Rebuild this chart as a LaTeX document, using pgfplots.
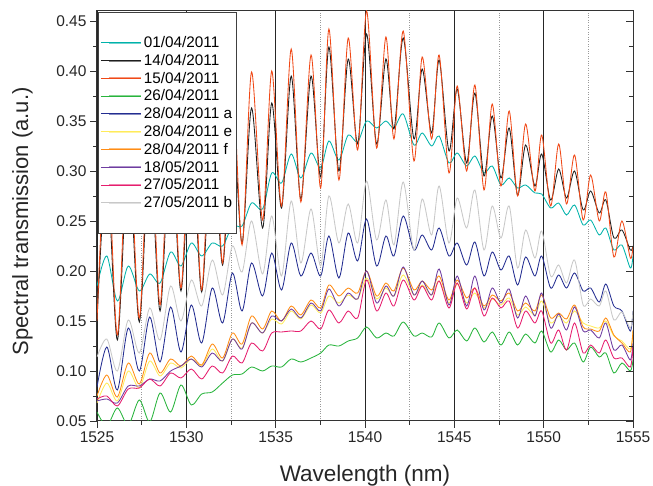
\documentclass[border=0pt]{standalone}
\usepackage{fontspec}
\setmainfont{Liberation Sans}
\usepackage{pgfplots}
\usepackage{pgfplotstable}
\pgfplotsset{compat=1.18}

\definecolor{cTeal}{RGB}{0,178,170}
\definecolor{cBlack}{RGB}{30,30,30}
\definecolor{cRed}{RGB}{240,72,22}
\definecolor{cGreen}{RGB}{40,180,60}
\definecolor{cBlue}{RGB}{35,45,145}
\definecolor{cYellow}{RGB}{255,235,90}
\definecolor{cOrange}{RGB}{255,140,20}
\definecolor{cPurple}{RGB}{110,60,160}
\definecolor{cPink}{RGB}{230,30,110}
\definecolor{cGray}{RGB}{200,200,200}

% peaks and troughs of the fringes
\pgfplotstableread{
x te bk or gn bl ye of pu pk gy
1525.00 .185 .150 .150 .059 .084 .068 .075 .070 .072 .114
1525.55 .215 .300 .330 .045 .124 .088 .096 .072 .075 .132
1526.14 .170 .131 .136 .063 .081 .070 .074 .068 .065 .100
1526.75 .205 .310 .340 .046 .143 .100 .108 .085 .082 .151
1527.37 .180 .149 .153 .071 .100 .083 .087 .085 .083 .118
1527.95 .197 .320 .350 .049 .154 .110 .118 .092 .092 .163
1528.53 .188 .160 .166 .078 .109 .095 .098 .090 .085 .131
1529.12 .219 .330 .360 .059 .164 .108 .112 .100 .098 .185
1529.70 .205 .180 .183 .086 .119 .103 .105 .105 .093 .150
1530.28 .228 .335 .370 .066 .166 .112 .115 .112 .102 .191
1530.86 .215 .179 .181 .077 .128 .105 .106 .104 .092 .165
1531.45 .228 .340 .380 .079 .183 .122 .127 .118 .105 .211
1532.03 .225 .206 .208 .088 .148 .110 .113 .110 .098 .176
1532.58 .245 .350 .385 .096 .198 .132 .138 .132 .115 .225
1533.12 .245 .228 .226 .097 .160 .123 .127 .122 .108 .199
1533.65 .268 .363 .399 .104 .208 .148 .155 .148 .128 .250
1534.27 .262 .243 .251 .100 .175 .138 .142 .138 .120 .197
1534.78 .298 .368 .400 .105 .218 .152 .160 .155 .138 .255
1535.33 .288 .263 .265 .104 .181 .147 .150 .150 .139 .195
1535.87 .317 .395 .422 .112 .228 .160 .165 .162 .140 .270
1536.41 .293 .272 .269 .109 .195 .152 .156 .153 .140 .208
1536.98 .318 .395 .416 .113 .218 .166 .171 .168 .150 .262
1537.52 .303 .294 .283 .118 .195 .158 .163 .160 .142 .205
1537.98 .330 .424 .442 .126 .235 .175 .186 .182 .161 .275
1538.54 .311 .300 .291 .125 .193 .168 .175 .165 .148 .228
1539.06 .336 .412 .433 .130 .238 .176 .183 .178 .160 .267
1539.59 .329 .327 .321 .133 .210 .172 .178 .172 .153 .228
1540.09 .350 .437 .460 .144 .252 .193 .200 .200 .191 .290
1540.65 .343 .327 .323 .133 .205 .172 .175 .168 .160 .231
1541.17 .350 .412 .434 .138 .235 .183 .188 .185 .178 .271
1541.62 .343 .342 .332 .135 .215 .175 .180 .175 .165 .226
1542.14 .357 .433 .440 .149 .255 .196 .203 .204 .191 .289
1542.74 .326 .332 .310 .135 .221 .176 .181 .176 .171 .221
1543.20 .338 .402 .414 .138 .236 .186 .190 .190 .185 .272
1543.73 .325 .338 .332 .134 .221 .176 .181 .176 .171 .236
1544.15 .335 .411 .416 .148 .243 .190 .195 .202 .190 .285
1544.70 .308 .320 .298 .133 .215 .168 .171 .166 .163 .228
1545.16 .318 .382 .385 .141 .228 .187 .191 .195 .188 .273
1545.69 .305 .308 .300 .130 .206 .168 .173 .165 .162 .243
1546.15 .315 .378 .386 .143 .229 .178 .183 .195 .183 .281
1546.66 .298 .295 .281 .129 .195 .163 .165 .161 .155 .221
1547.12 .305 .355 .367 .139 .219 .172 .176 .183 .173 .265
1547.61 .286 .293 .285 .126 .201 .166 .170 .168 .163 .233
1548.07 .293 .343 .360 .139 .215 .173 .178 .182 .170 .265
1548.54 .283 .276 .275 .126 .186 .156 .160 .153 .143 .203
1548.99 .286 .326 .347 .137 .214 .164 .168 .175 .160 .241
1549.51 .278 .285 .280 .128 .195 .156 .160 .155 .148 .213
1549.89 .277 .317 .336 .140 .215 .170 .176 .178 .160 .240
1550.39 .263 .271 .265 .119 .183 .148 .153 .143 .128 .195
1550.84 .268 .302 .327 .131 .196 .155 .158 .157 .141 .206
1551.28 .256 .273 .267 .121 .183 .148 .152 .141 .121 .188
1551.73 .266 .300 .316 .128 .198 .160 .166 .164 .148 .211
1552.21 .246 .261 .251 .109 .180 .148 .144 .140 .118 .166
1552.63 .251 .280 .296 .124 .183 .145 .142 .141 .126 .172
1553.11 .236 .258 .250 .114 .169 .143 .140 .133 .118 .165
1553.48 .243 .271 .279 .118 .187 .150 .153 .148 .131 .180
1553.93 .221 .233 .214 .098 .165 .135 .136 .121 .113 .151
1554.38 .226 .241 .250 .108 .160 .130 .128 .126 .113 .159
1554.85 .203 .221 .213 .100 .140 .122 .119 .111 .104 .143
1555.00 .215 .225 .225 .111 .160 .140 .141 .128 .124 .160
}\spectra

\begin{document}
\begin{tikzpicture}
\begin{axis}[
  scale only axis, width=536pt, height=410pt,
  xmin=1525, xmax=1555, ymin=0.05, ymax=0.46,
  xtick={1525,1530,...,1555}, minor x tick num=1,
  ytick={0.05,0.10,...,0.46}, minor y tick num=1,
  xtick pos=left, ytick pos=left,
  tick align=outside, major tick length=7pt, minor tick length=4pt,
  tick style={black!80, line width=0.9pt},
  axis line style={black!80, line width=1pt},
  xmajorgrids, xminorgrids,
  major grid style={black!85, line width=0.8pt},
  minor grid style={gray!80, dotted, line width=0.7pt},
  /pgf/number format/assume math mode=true,
  tick label style={font=\fontsize{15.5}{18}\selectfont, black!85},
  xticklabel style={/pgf/number format/set thousands separator={}},
  yticklabel style={/pgf/number format/.cd, fixed, fixed zerofill, precision=2},
  xlabel={Wavelength (nm)},
  ylabel={Spectral transmission (a.u.)},
  xlabel style={at={(axis description cs:0.5,0)}, anchor=north, inner sep=0pt, yshift=-44pt, font=\fontsize{22.5}{26}\selectfont, black!85},
  ylabel style={at={(axis description cs:-0.1194,0.487)}, rotate=0, anchor=south, inner sep=0pt, font=\fontsize{22}{26}\selectfont, black!85},
  legend cell align=left,
  legend image code/.code={\path (0pt,0pt) -- (40pt,0pt); \draw[#1, line width=2pt, opacity=0.55] (8pt,0pt) -- (40pt,0pt);},
  legend style={at={(0,1)}, anchor=north west, xshift=1pt, yshift=-1pt,
    draw=black!75, line width=0.9pt, fill=white,
    font=\fontsize{15.3}{16}\selectfont, inner xsep=2pt, inner ysep=22pt, row sep=1.2pt},
  every axis plot/.append style={smooth, line width=0.85pt},
]
\addplot[cTeal] table[x=x, y=te]{\spectra};
\addlegendentry{01/04/2011}
\addplot[cBlack] table[x=x, y=bk]{\spectra};
\addlegendentry{14/04/2011}
\addplot[cRed] table[x=x, y=or]{\spectra};
\addlegendentry{15/04/2011}
\addplot[cGreen] table[x=x, y=gn]{\spectra};
\addlegendentry{26/04/2011}
\addplot[cBlue] table[x=x, y=bl]{\spectra};
\addlegendentry{28/04/2011 a}
\addplot[cYellow] table[x=x, y=ye]{\spectra};
\addlegendentry{28/04/2011 e}
\addplot[cOrange] table[x=x, y=of]{\spectra};
\addlegendentry{28/04/2011 f}
\addplot[cPurple] table[x=x, y=pu]{\spectra};
\addlegendentry{18/05/2011}
\addplot[cPink] table[x=x, y=pk]{\spectra};
\addlegendentry{27/05/2011}
\addplot[cGray] table[x=x, y=gy]{\spectra};
\addlegendentry{27/05/2011 b}
\end{axis}
% inward ticks on the right-hand frame
\begin{axis}[
  scale only axis, width=536pt, height=410pt,
  xmin=1525, xmax=1555, ymin=0.05, ymax=0.46,
  hide x axis, axis y line*=right,
  ytick={0.05,0.10,...,0.46}, minor y tick num=1, yticklabels={},
  tick align=inside, major tick length=7pt, minor tick length=4pt,
  tick style={black!80, line width=0.9pt},
  axis line style={black!80, line width=1pt},
]
\addplot[draw=none] coordinates {(1530,0.1)};
\end{axis}
\pgfresetboundingbox
\path[use as bounding box] ([shift={(-97pt,-65pt)}]current axis.south west) rectangle ([shift={(20pt,11pt)}]current axis.north east);
\end{tikzpicture}
\end{document}
